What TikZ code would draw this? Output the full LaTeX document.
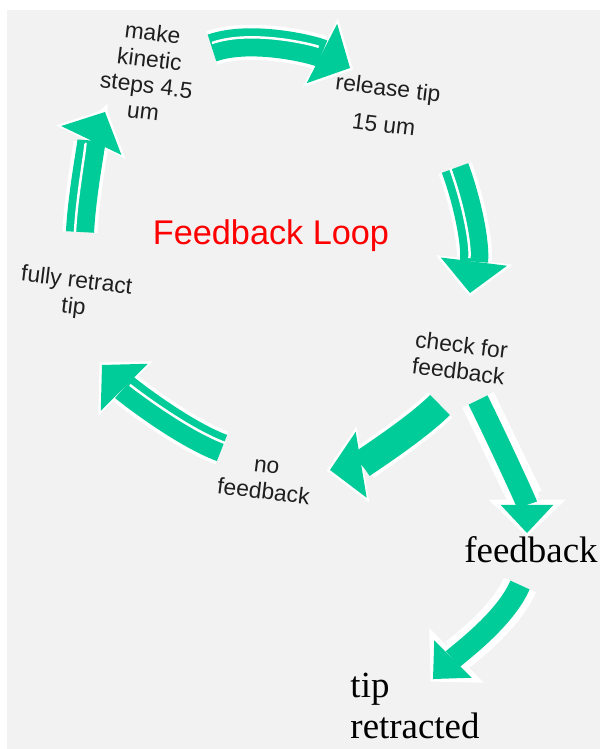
\documentclass[tikz,border=0pt]{standalone}
\usepackage{fontspec}
\usepackage{xcolor}
\usepackage{tikz}
\usetikzlibrary{arrows.meta,calc}
\setmainfont{Liberation Sans}
\newfontfamily\timesfont{Liberation Serif}
\definecolor{loopgreen}{HTML}{00CC99}
\definecolor{paneltone}{HTML}{F2F2F2}
\definecolor{inktone}{HTML}{1F1F1F}

\begin{document}
\begin{tikzpicture}[x=0.02cm, y=-0.02cm,
    lbl/.style={align=center, inner sep=0pt, text=inktone, rotate=-7, font=\fontsize{13}{15}\selectfont},
    serif/.style={inner sep=0pt, text=black, font=\timesfont\fontsize{21}{23}\selectfont},
    flow/.style={draw=loopgreen, line width=16pt, -{Triangle[length=18pt, width=38pt, line width=0pt]},
        preaction={draw=white, line width=20pt, shorten >=-2pt, -{Triangle[length=21pt, width=44pt, line width=0pt]}}},
    flowthin/.style={flow, line width=12pt, -{Triangle[length=16pt, width=30pt, line width=0pt]},
        preaction={draw=white, line width=16pt, shorten >=-2pt, -{Triangle[length=19pt, width=36pt, line width=0pt]}}},
    edge3d/.style={postaction={draw=white, line width=1.4pt, -, shorten >=20pt, transform canvas={shift={#1}}}}
]
    \useasboundingbox (0,0) rectangle (600,749);
    \fill[paneltone] (7,10) rectangle (600,749);

    \node[lbl] (kin) at (148,72) {make\\kinetic\\steps 4.5\\um};
    \node[lbl] (rel) at (386,106) {release tip\\[6pt]15 um};
    \node[inner sep=0pt, text=red, font=\fontsize{19.5}{22}\selectfont] (title) at (271,236) {Feedback Loop};
    \node[lbl] (ret) at (75,295) {fully retract\\tip};
    \node[lbl] (chk) at (460,358) {check for\\feedback};
    \node[lbl] (nofb) at (265,480) {no\\feedback};
    \node[serif] (fb) at (531,550) {feedback};
    \node[serif, align=left] (done) at (415,706) {tip\\retracted};

    % the loop
    \draw[flow, edge3d={(0,-5)}] ($(kin)+(64,-24)$) .. controls +(40,-14) and +(-35,-18) .. ($(rel)+(-36,-38)$);
    \draw[flow, edge3d={(-5,0)}] ($(rel)+(69,62)$) .. controls +(13,35) and +(6,-48) .. ($(chk)+(10,-65)$);
    \draw[flow] ($(chk)+(-20,47)$) .. controls +(-25,25) and +(30,-5) .. ($(nofb)+(65,-10)$);
    \draw[flow, edge3d={(3,-5)}] ($(nofb)+(-43,-32)$) .. controls +(-40,-15) and +(25,25) .. ($(ret)+(27,70)$);
    \draw[flow, edge3d={(-5,0)}] ($(ret)+(5,-63)$) .. controls +(2,-40) and +(-12,25) .. ($(kin)+(-43,40)$);
    % way out
    \draw[flowthin] ($(chk)+(18,42)$) .. controls +(15,30) and +(0,-30) .. ($(fb)+(-4,-17)$);
    \draw[flowthin] ($(fb)+(-11,35)$) .. controls +(-15,35) and +(25,-25) .. ($(done)+(18,-27)$);
\end{tikzpicture}
\end{document}
